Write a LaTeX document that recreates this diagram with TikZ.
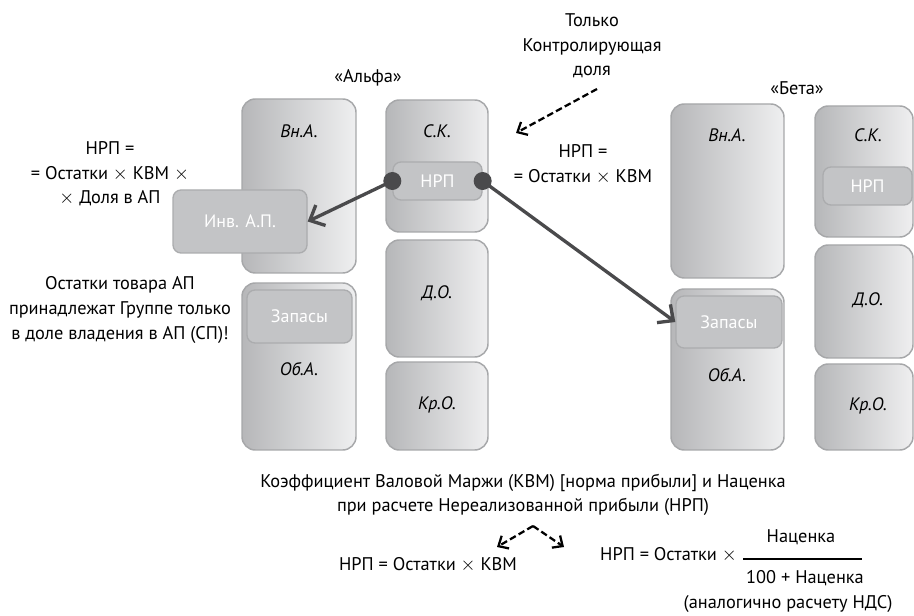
\documentclass[tikz,border=0pt]{standalone}
\usepackage{fontspec}
\setmainfont{PT Sans}
\usetikzlibrary{arrows.meta}
\definecolor{bd}{HTML}{A6A7A9}
\definecolor{gL}{HTML}{B6B7B9}
\definecolor{gR}{HTML}{EFEFF0}
\definecolor{ifill}{HTML}{C3C4C6}
\definecolor{ibd}{HTML}{ABACAE}
\definecolor{arc}{HTML}{4A4A4C}
\tikzset{
  blk/.style={draw=bd, line width=1.1pt, rounded corners=10pt, left color=gL, right color=gR, inner sep=0pt},
  inn/.style={draw=ibd, line width=1pt, rounded corners=6pt, fill=ifill, text=white, inner sep=0pt, font=\fontsize{13.5}{15}\selectfont},
  lbl/.style={font=\itshape\fontsize{13.5}{16}\selectfont, inner sep=0pt},
  txt/.style={font=\fontsize{13.75}{18.5}\selectfont, align=center, inner sep=0pt},
  arr/.style={draw=arc, line width=2.5pt, -{Straight Barb[length=9pt,width=17pt]}},
  dot/.style={circle, fill=arc, minimum size=13.5pt, inner sep=0pt},
  dsh/.style={draw=black, line width=1.7pt, dash pattern=on 5pt off 2.5pt, -{Straight Barb[length=6pt,width=11pt]}}
}
\begin{document}
\begin{tikzpicture}[x=0.75pt,y=-0.75pt]
\useasboundingbox (0,0) rectangle (914,616);
% Alpha
\node[blk, minimum width=85.5pt, minimum height=130.5pt] (aVn) at (299,186) {};
\node[blk, minimum width=76.5pt, minimum height=99pt] (aSK) at (437,166) {};
\node[blk, minimum width=76.5pt, minimum height=87.75pt] (aDO) at (437,298.5) {};
\node[blk, minimum width=76.5pt, minimum height=66pt] (aKO) at (437,406) {};
\node[blk, minimum width=85.5pt, minimum height=125.25pt] (aOA) at (299,366.5) {};
\node[lbl] (aVnL) at (299,131) {Вн.А.};
\node[lbl] (aSKL) at (437,131) {С.К.};
\node[lbl] (aDOL) at (437,293) {Д.О.};
\node[lbl] (aKOL) at (437,405) {Кр.О.};
\node[lbl] (aOAL) at (299,369) {Об.А.};
\node[inn, minimum width=66.75pt, minimum height=28.5pt] (aN) at (437.5,181) {НРП};
\node[inn, minimum width=78.75pt, minimum height=39.75pt] (aZ) at (299.5,316.5) {Запасы};
\node[inn, minimum width=100.5pt, minimum height=47.25pt] (inv) at (240,221.5) {Инв. А.П.};
% Beta
\node[blk, minimum width=84.75pt, minimum height=130.5pt] (bVn) at (727.5,191) {};
\node[blk, minimum width=73.5pt, minimum height=98.25pt] (bSK) at (864,171.5) {};
\node[blk, minimum width=73.5pt, minimum height=84.75pt] (bDO) at (864,301.5) {};
\node[blk, minimum width=73.5pt, minimum height=64.5pt] (bKO) at (864,407) {};
\node[blk, minimum width=84.75pt, minimum height=120.75pt] (bOA) at (727.5,369.5) {};
\node[lbl] (bVnL) at (727,135) {Вн.А.};
\node[lbl] (bSKL) at (868,135) {С.К.};
\node[lbl] (bDOL) at (868,300) {Д.О.};
\node[lbl] (bKOL) at (868,406) {Кр.О.};
\node[lbl] (bOAL) at (727,375) {Об.А.};
\node[inn, minimum width=66.75pt, minimum height=28.5pt] (bN) at (867.5,186) {НРП};
\node[inn, minimum width=79.5pt, minimum height=39pt] (bZ) at (729,322) {Запасы};
% titles
\node[txt] (alpha) at (368,78) {«Альфа»};
\node[txt] (beta) at (797,88) {«Бета»};
\node[txt] (only) at (592,46) {Только\\Контролирующая\\доля};
\node[txt] (f1) at (583,164) {НРП =\\= Остатки $\times$ КВМ};
\node[txt] (f2) at (110,174) {НРП =\\= Остатки $\times$ КВМ $\times$\\$\times$ Доля в АП};
\node[txt] (note) at (120,310) {Остатки товара АП\\принадлежат Группе только\\в доле владения в АП (СП)!};
\node[txt] (kvm) at (523,495) {Коэффициент Валовой Маржи (КВМ) [норма прибыли] и Наценка\\при расчете Нереализованной прибыли (НРП)};
\node[txt] (fk) at (428,565) {НРП = Остатки $\times$ КВМ};
\node[txt, anchor=east] (fn) at (737,555) {НРП = Остатки $\times$};
\node[txt] (num) at (801,537) {Наценка};
\node[txt] (den) at (805,578) {100 + Наценка};
\draw[line width=1pt] (743,559) -- (862,559);
\node[txt] (nds) at (788,604) {(аналогично расчету НДС)};
% arrows
\draw[arr] (aN.west) -- (inv.east);
\draw[arr] (aN.east) -- (bZ.west);
\node[dot] (d1) at (aN.west) {};
\node[dot] (d2) at (aN.east) {};
\coordinate (ds) at (597,89);
\coordinate (de) at (516,133);
\draw[dsh] (ds) -- (de);
\coordinate (pk) at (533,526);
\coordinate (tl) at (497,547);
\coordinate (tr) at (564,547);
\draw[dsh] (pk) -- (tl);
\draw[dsh] (pk) -- (tr);
\end{tikzpicture}
\end{document}
